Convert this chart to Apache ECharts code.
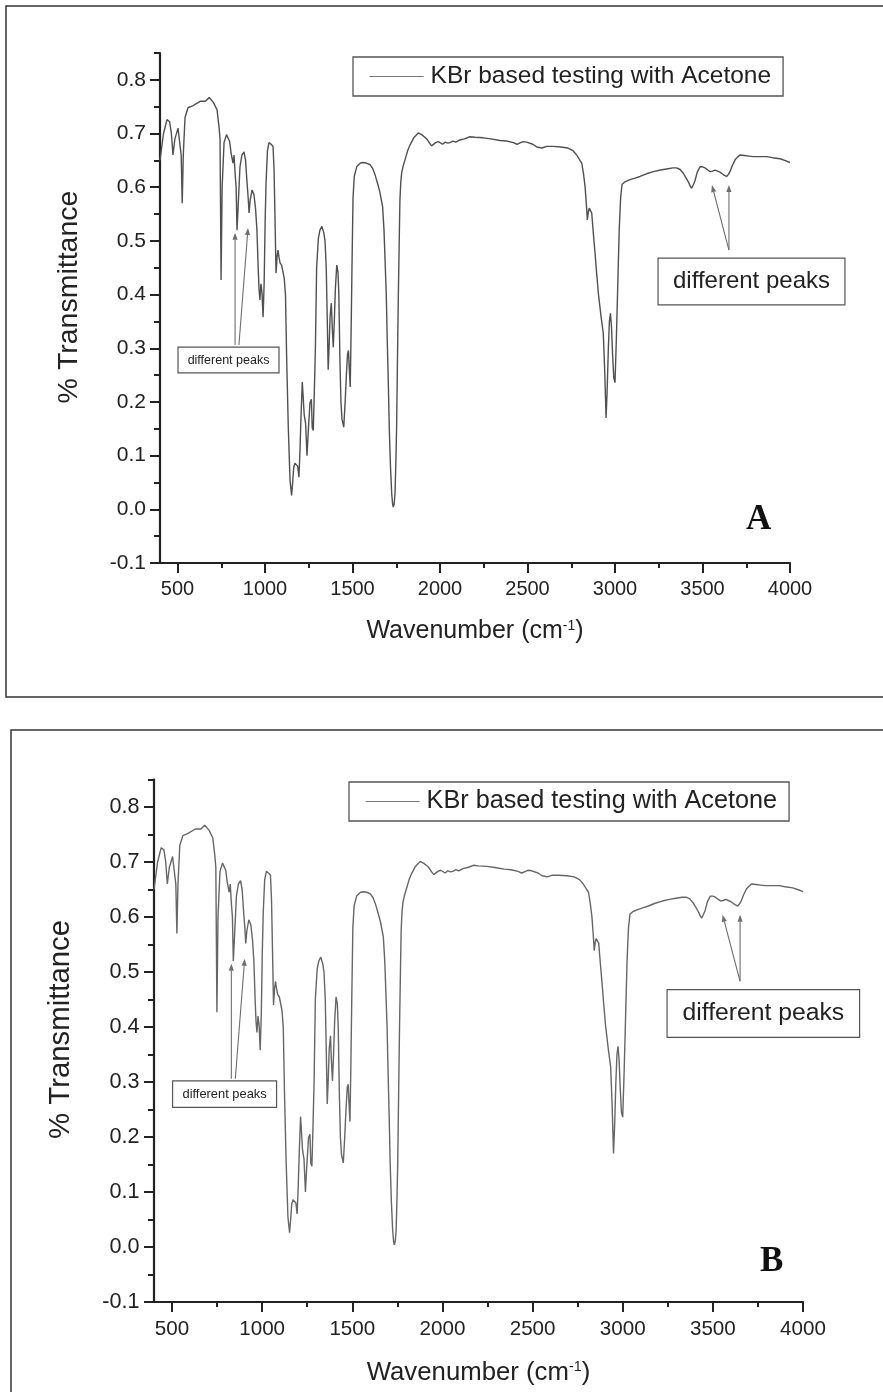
<!DOCTYPE html>
<html>
<head>
<meta charset="utf-8">
<title>FTIR spectrum - KBr based testing with Acetone</title>
<script src="https://cdn.jsdelivr.net/npm/echarts@6.0.0/dist/echarts.min.js"></script>
<style>
  html, body { margin: 0; padding: 0; background: #fff; }
  #chart { width: 883px; height: 1392px; }
</style>
</head>
<body>
<div id="chart"></div>
<script>
// spectrum: wavenumber (cm-1) -> % transmittance
const wavenumber = [
  400, 420, 440, 455, 465, 474, 485, 503, 514, 521, 527, 533, 543, 560, 589, 629, 660, 681, 705, 726,
  738, 743, 749, 755, 766, 780, 789, 798, 806, 817, 823, 829, 835, 840, 846, 857, 868, 880, 889, 897,
  904, 909, 915, 926, 937, 946, 954, 961, 966, 971, 977, 983, 989, 995, 1001, 1006, 1014, 1023, 1035, 1046,
  1052, 1057, 1063, 1069, 1074, 1080, 1086, 1095, 1103, 1110, 1117, 1124, 1133, 1143, 1152, 1158, 1164, 1171, 1180, 1187,
  1194, 1200, 1206, 1213, 1218, 1224, 1232, 1240, 1248, 1257, 1265, 1270, 1276, 1282, 1288, 1295, 1305, 1314, 1325, 1336,
  1343, 1350, 1356, 1361, 1366, 1372, 1379, 1384, 1390, 1396, 1402, 1410, 1417, 1422, 1428, 1434, 1440, 1450, 1458, 1465,
  1472, 1477, 1482, 1487, 1492, 1497, 1503, 1510, 1524, 1545, 1562, 1580, 1600, 1615, 1629, 1645, 1657, 1672, 1680, 1686,
  1693, 1699, 1705, 1710, 1717, 1724, 1729, 1733, 1738, 1743, 1748, 1752, 1757, 1762, 1767, 1771, 1776, 1781, 1790, 1800,
  1815, 1829, 1850, 1876, 1895, 1910, 1924, 1940, 1952, 1962, 1975, 1990, 2000, 2015, 2030, 2045, 2057, 2075, 2090, 2114,
  2140, 2171, 2200, 2247, 2290, 2343, 2380, 2419, 2440, 2460, 2476, 2495, 2530, 2553, 2581, 2610, 2646, 2690, 2731, 2760,
  2781, 2800, 2810, 2820, 2829, 2836, 2842, 2848, 2853, 2860, 2867, 2876, 2886, 2895, 2905, 2920, 2933, 2941, 2949, 2955,
  2962, 2968, 2974, 2980, 2986, 2993, 3000, 3008, 3016, 3024, 3032, 3040, 3057, 3086, 3115, 3143, 3180, 3219, 3260, 3295,
  3330, 3352, 3372, 3390, 3405, 3419, 3430, 3438, 3447, 3457, 3470, 3486, 3500, 3514, 3530, 3543, 3557, 3571, 3586, 3600,
  3612, 3625, 3638, 3648, 3657, 3670, 3686, 3700, 3714, 3740, 3765, 3790, 3830, 3867, 3900, 3943, 3970, 4000
];
const transmittance = [
  0.650, 0.700, 0.726, 0.722, 0.700, 0.660, 0.690, 0.710, 0.708, 0.660, 0.570, 0.660, 0.730, 0.748, 0.752, 0.760, 0.760, 0.767, 0.758, 0.744,
  0.710, 0.690, 0.427, 0.600, 0.683, 0.698, 0.700, 0.685, 0.664, 0.645, 0.660, 0.626, 0.600, 0.520, 0.560, 0.638, 0.660, 0.666, 0.650, 0.610,
  0.580, 0.552, 0.575, 0.595, 0.586, 0.560, 0.520, 0.450, 0.410, 0.390, 0.420, 0.403, 0.358, 0.420, 0.540, 0.608, 0.668, 0.683, 0.680, 0.676,
  0.630, 0.545, 0.440, 0.470, 0.483, 0.470, 0.459, 0.455, 0.452, 0.430, 0.400, 0.278, 0.154, 0.054, 0.026, 0.050, 0.078, 0.086, 0.088, 0.080,
  0.060, 0.110, 0.175, 0.237, 0.210, 0.176, 0.160, 0.100, 0.150, 0.198, 0.205, 0.152, 0.147, 0.220, 0.300, 0.450, 0.505, 0.520, 0.527, 0.515,
  0.500, 0.450, 0.350, 0.260, 0.300, 0.360, 0.384, 0.340, 0.302, 0.350, 0.410, 0.455, 0.442, 0.400, 0.280, 0.200, 0.168, 0.153, 0.200, 0.250,
  0.290, 0.296, 0.260, 0.228, 0.330, 0.450, 0.580, 0.620, 0.638, 0.645, 0.646, 0.645, 0.642, 0.635, 0.623, 0.605, 0.590, 0.564, 0.520, 0.465,
  0.400, 0.310, 0.230, 0.153, 0.080, 0.030, 0.010, 0.004, 0.010, 0.030, 0.090, 0.153, 0.280, 0.400, 0.500, 0.576, 0.610, 0.627, 0.640, 0.651,
  0.668, 0.679, 0.692, 0.701, 0.698, 0.694, 0.690, 0.682, 0.677, 0.677, 0.683, 0.685, 0.684, 0.680, 0.684, 0.682, 0.683, 0.686, 0.684, 0.688,
  0.690, 0.694, 0.693, 0.692, 0.690, 0.687, 0.686, 0.683, 0.680, 0.683, 0.685, 0.684, 0.680, 0.675, 0.673, 0.676, 0.676, 0.675, 0.673, 0.668,
  0.660, 0.650, 0.645, 0.625, 0.601, 0.570, 0.539, 0.555, 0.561, 0.558, 0.552, 0.515, 0.477, 0.440, 0.402, 0.360, 0.328, 0.260, 0.170, 0.220,
  0.300, 0.350, 0.365, 0.340, 0.290, 0.245, 0.236, 0.320, 0.420, 0.520, 0.580, 0.605, 0.610, 0.614, 0.617, 0.620, 0.625, 0.629, 0.632, 0.634,
  0.636, 0.636, 0.633, 0.626, 0.618, 0.610, 0.602, 0.598, 0.604, 0.612, 0.628, 0.638, 0.638, 0.636, 0.632, 0.629, 0.630, 0.632, 0.630, 0.628,
  0.625, 0.622, 0.620, 0.624, 0.629, 0.640, 0.651, 0.656, 0.660, 0.659, 0.658, 0.657, 0.657, 0.657, 0.655, 0.653, 0.650, 0.646
];

const xMajorTicks = [500, 1000, 1500, 2000, 2500, 3000, 3500, 4000];
const xMinorTicks = [750, 1250, 1750, 2250, 2750, 3250, 3750];
const yMajorTicks = [-0.1, 0, 0.1, 0.2, 0.3, 0.4, 0.5, 0.6, 0.7, 0.8];
const yMinorTicks = [-0.05, 0.05, 0.15, 0.25, 0.35, 0.45, 0.55, 0.65, 0.75, 0.85];

const seriesName = 'KBr based testing with Acetone';
const panelNames = ['A', 'B'];
const noteText = 'different peaks';

// annotation anchors, in data units [wavenumber, transmittance]
const smallNoteBox = [[503, 0.302], [1080, 0.254]];
const smallNoteArrows = [[[829, 0.306], [829, 0.515]], [[851, 0.306], [903, 0.524]]];
const bigNoteBox = [[3246, 0.468], [4314, 0.381]];
const bigNoteArrows = [[[3651, 0.483], [3554, 0.604]], [[3651, 0.483], [3651, 0.604]]];

// page layout of the two stacked copies
const panels = [
  {
    frame: { x: 6, y: 6, width: 900, height: 691 },
    grid: { left: 160, top: 53, width: 630, height: 510 },
    legend: { left: 353, top: 57 },
    tag: { left: 746, top: 502 },
    lineColor: '#505050',
    scale: 1
  },
  {
    frame: { x: 11, y: 730, width: 900, height: 700 },
    grid: { left: 154, top: 779.5, width: 649, height: 522.5 },
    legend: { left: 349, top: 782 },
    tag: { left: 760, top: 1244 },
    lineColor: '#666',
    scale: 1.03
  }
];

const FONT = '"Liberation Sans", Arial, sans-serif';
const INK = '#222';

const chart = echarts.init(document.getElementById('chart'));

function buildOption() {
  const points = wavenumber.map((w, i) => [w, transmittance[i]]);
  const option = {
    animation: false,
    backgroundColor: '#fff',
    textStyle: { fontFamily: FONT },
    title: [],
    legend: [],
    grid: [],
    xAxis: [],
    yAxis: [],
    series: []
  };

  panels.forEach((p, i) => {
    const s = p.scale;
    option.grid.push(Object.assign({ outerBoundsMode: 'none', containLabel: false }, p.grid));

    // main x axis: line, long ticks, labels, name
    option.xAxis.push({
      gridIndex: i,
      type: 'value',
      position: 'bottom',
      min: 400,
      max: 4000,
      splitLine: { show: false },
      axisLine: { show: true, onZero: false, lineStyle: { color: INK, width: 2.2 } },
      axisTick: { show: true, customValues: xMajorTicks, length: 10, lineStyle: { color: INK, width: 2 } },
      axisLabel: {
        customValues: xMajorTicks,
        margin: 16 * s,
        fontSize: 20 * s,
        color: INK,
        fontFamily: FONT,
        formatter: v => String(v)
      },
      name: 'Wavenumber (cm{sup|-1})',
      nameLocation: 'middle',
      nameGap: 56 * s,
      nameTextStyle: {
        fontSize: 25 * s,
        color: INK,
        fontFamily: FONT,
        rich: {
          sup: { fontSize: 14 * s, verticalAlign: 'top', color: INK, fontFamily: FONT }
        }
      }
    });
    // minor x ticks
    option.xAxis.push({
      gridIndex: i,
      type: 'value',
      position: 'bottom',
      min: 400,
      max: 4000,
      splitLine: { show: false },
      axisLine: { show: false, onZero: false },
      axisLabel: { show: false },
      axisTick: { show: true, customValues: xMinorTicks, length: 5, lineStyle: { color: INK, width: 2 } }
    });

    option.yAxis.push({
      gridIndex: i,
      type: 'value',
      position: 'left',
      min: -0.1,
      max: 0.85,
      splitLine: { show: false },
      axisLine: { show: true, onZero: false, lineStyle: { color: INK, width: 2.2 } },
      axisTick: { show: true, customValues: yMajorTicks, length: 10, lineStyle: { color: INK, width: 2 } },
      axisLabel: {
        customValues: yMajorTicks,
        margin: 14 * s,
        fontSize: 21 * s,
        color: INK,
        fontFamily: FONT,
        formatter: v => v.toFixed(1)
      },
      name: '% Transmittance',
      nameLocation: 'middle',
      nameGap: 76 * s,
      nameTextStyle: { fontSize: 28.5 * s, color: INK, fontFamily: FONT, padding: [0, 0, 0, 22 * s] }
    });
    option.yAxis.push({
      gridIndex: i,
      type: 'value',
      position: 'left',
      min: -0.1,
      max: 0.85,
      splitLine: { show: false },
      axisLine: { show: false, onZero: false },
      axisLabel: { show: false },
      axisTick: { show: true, customValues: yMinorTicks, length: 6, lineStyle: { color: INK, width: 2 } }
    });

    option.series.push({
      name: seriesName,
      type: 'line',
      xAxisIndex: 2 * i,
      yAxisIndex: 2 * i,
      data: points,
      symbol: 'none',
      showSymbol: false,
      smooth: false,
      color: p.lineColor,
      lineStyle: { color: p.lineColor, width: 1.4 },
      silent: true
    });

    option.legend.push({
      left: p.legend.left,
      top: p.legend.top,
      orient: 'horizontal',
      data: [seriesName],
      selectedMode: false,
      itemWidth: 54,
      itemHeight: 14,
      padding: [7, 12, 7, 16],
      borderColor: '#555',
      borderWidth: 1.3,
      borderRadius: 0,
      backgroundColor: '#fff',
      itemStyle: { opacity: 0 },
      lineStyle: { color: '#777', width: 1.2 },
      textStyle: { fontSize: 24.5 * s, color: INK, fontFamily: FONT, padding: [0, 0, 0, 2] }
    });

    option.title.push({
      text: panelNames[i],
      left: p.tag.left,
      top: p.tag.top,
      padding: 0,
      textStyle: {
        fontFamily: '"Liberation Serif", "Times New Roman", serif',
        fontWeight: 'bold',
        fontSize: 35,
        color: '#111'
      }
    });
  });
  return option;
}

function arrow(a, b, color) {
  const dx = b[0] - a[0];
  const dy = b[1] - a[1];
  const len = Math.sqrt(dx * dx + dy * dy) || 1;
  const ux = dx / len, uy = dy / len;
  const head = 7, half = 2.6;
  const bx = b[0] - ux * head, by = b[1] - uy * head;
  return [
    {
      type: 'line',
      silent: true,
      shape: { x1: a[0], y1: a[1], x2: bx, y2: by },
      style: { stroke: color, lineWidth: 1.1 }
    },
    {
      type: 'polygon',
      silent: true,
      shape: { points: [b, [bx - uy * half, by + ux * half], [bx + uy * half, by - ux * half]] },
      style: { fill: color }
    }
  ];
}

function noteBox(tl, br, fontSize) {
  const x = Math.min(tl[0], br[0]), y = Math.min(tl[1], br[1]);
  const w = Math.abs(br[0] - tl[0]), h = Math.abs(br[1] - tl[1]);
  return [
    {
      type: 'rect',
      silent: true,
      shape: { x: x, y: y, width: w, height: h },
      style: { fill: '#fff', stroke: '#555', lineWidth: 1.2 }
    },
    {
      type: 'text',
      silent: true,
      style: {
        text: noteText,
        x: x + w / 2,
        y: y + h / 2,
        align: 'center',
        verticalAlign: 'middle',
        font: fontSize + 'px ' + FONT,
        fill: INK
      }
    }
  ];
}

function buildGraphic() {
  const els = [];
  panels.forEach((p, i) => {
    const s = p.scale;
    const toPx = pt => chart.convertToPixel({ xAxisIndex: 2 * i, yAxisIndex: 2 * i }, pt);

    els.push({
      type: 'rect',
      silent: true,
      z: -10,
      shape: p.frame,
      style: { fill: 'none', stroke: '#333', lineWidth: 1.5 }
    });

    els.push(...noteBox(toPx(smallNoteBox[0]), toPx(smallNoteBox[1]), 12.5 * s));
    smallNoteArrows.forEach(([a, b]) => els.push(...arrow(toPx(a), toPx(b), '#6e6e6e')));

    els.push(...noteBox(toPx(bigNoteBox[0]), toPx(bigNoteBox[1]), 24 * s));
    bigNoteArrows.forEach(([a, b]) => els.push(...arrow(toPx(a), toPx(b), '#6e6e6e')));
  });
  return els;
}

chart.setOption(buildOption());
chart.setOption({ graphic: buildGraphic() });
</script>
</body>
</html>
